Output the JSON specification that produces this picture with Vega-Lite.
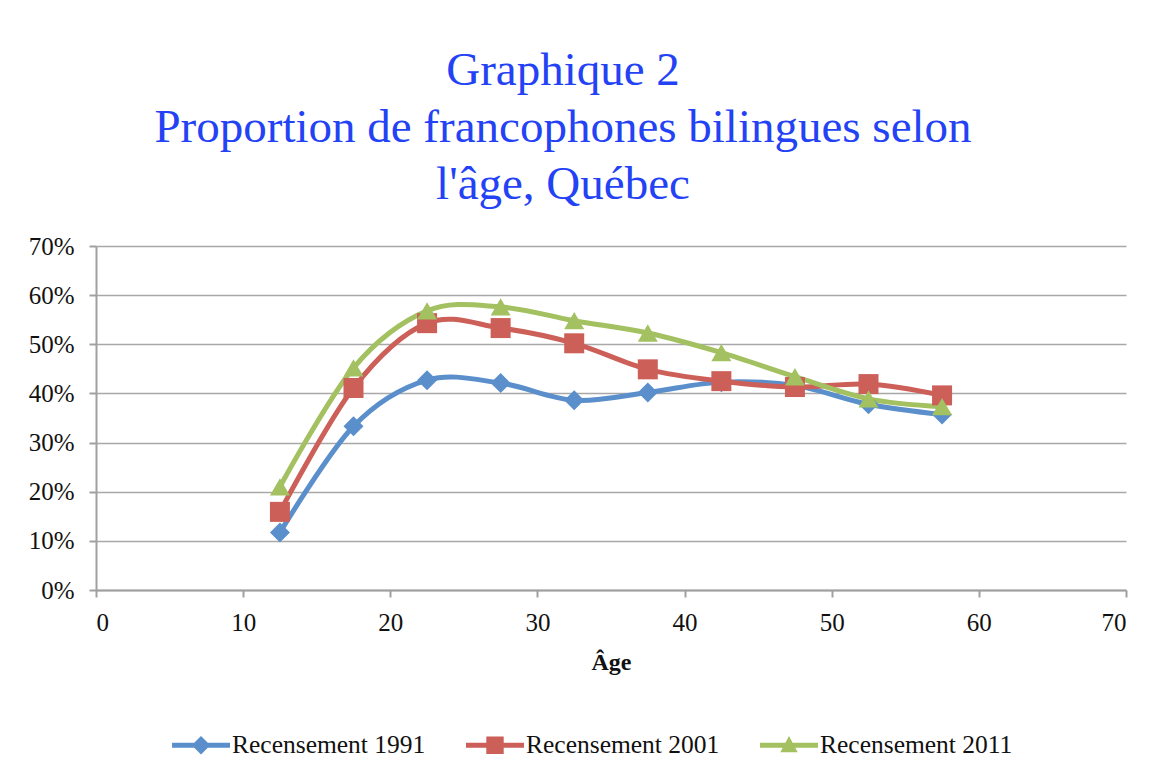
{
  "$schema": "https://vega.github.io/schema/vega-lite/v6.json",
  "autosize": {"type": "none"},
  "width": 1030,
  "height": 344,
  "padding": {"left": 96, "top": 246, "right": 34, "bottom": 192},
  "background": "white",
  "title": {
    "text": ["Graphique 2", "Proportion de francophones bilingues selon", "l'âge, Québec"],
    "anchor": "middle",
    "frame": "group",
    "dx": -48,
    "offset": 25,
    "font": "Liberation Serif",
    "fontSize": 47,
    "fontWeight": "normal",
    "color": "#2442F5",
    "lineHeight": 57
  },
  "config": {
    "view": {"stroke": null},
    "axis": {
      "labelFont": "Liberation Serif",
      "labelFontSize": 25,
      "labelColor": "#111111",
      "titleFont": "Liberation Serif",
      "titleColor": "#111111",
      "domainColor": "#A0A0A0",
      "domainWidth": 2,
      "tickColor": "#A0A0A0",
      "tickWidth": 2,
      "tickSize": 7,
      "gridColor": "#A8A8A8",
      "gridWidth": 1.6
    }
  },
  "data": {
    "values": [
      {"series": "Recensement 1991", "age": 12.5, "value": 0.117},
      {"series": "Recensement 1991", "age": 17.5, "value": 0.333},
      {"series": "Recensement 1991", "age": 22.5, "value": 0.427},
      {"series": "Recensement 1991", "age": 27.5, "value": 0.421},
      {"series": "Recensement 1991", "age": 32.5, "value": 0.386},
      {"series": "Recensement 1991", "age": 37.5, "value": 0.402},
      {"series": "Recensement 1991", "age": 42.5, "value": 0.423},
      {"series": "Recensement 1991", "age": 47.5, "value": 0.416},
      {"series": "Recensement 1991", "age": 52.5, "value": 0.378},
      {"series": "Recensement 1991", "age": 57.5, "value": 0.357},
      {"series": "Recensement 2001", "age": 12.5, "value": 0.159},
      {"series": "Recensement 2001", "age": 17.5, "value": 0.411},
      {"series": "Recensement 2001", "age": 22.5, "value": 0.543},
      {"series": "Recensement 2001", "age": 27.5, "value": 0.533},
      {"series": "Recensement 2001", "age": 32.5, "value": 0.502},
      {"series": "Recensement 2001", "age": 37.5, "value": 0.449},
      {"series": "Recensement 2001", "age": 42.5, "value": 0.425},
      {"series": "Recensement 2001", "age": 47.5, "value": 0.413},
      {"series": "Recensement 2001", "age": 52.5, "value": 0.419},
      {"series": "Recensement 2001", "age": 57.5, "value": 0.396},
      {"series": "Recensement 2011", "age": 12.5, "value": 0.210},
      {"series": "Recensement 2011", "age": 17.5, "value": 0.452},
      {"series": "Recensement 2011", "age": 22.5, "value": 0.568},
      {"series": "Recensement 2011", "age": 27.5, "value": 0.576},
      {"series": "Recensement 2011", "age": 32.5, "value": 0.548},
      {"series": "Recensement 2011", "age": 37.5, "value": 0.523},
      {"series": "Recensement 2011", "age": 42.5, "value": 0.483},
      {"series": "Recensement 2011", "age": 47.5, "value": 0.434},
      {"series": "Recensement 2011", "age": 52.5, "value": 0.389},
      {"series": "Recensement 2011", "age": 57.5, "value": 0.373}
    ]
  },
  "encoding": {
    "x": {
      "field": "age", "type": "quantitative",
      "scale": {"domain": [0, 70], "nice": false, "zero": false},
      "axis": {"values": [0, 10, 20, 30, 40, 50, 60, 70], "grid": false, "labelPadding": 13, "title": "Âge", "titleFontSize": 24, "titleFontWeight": "bold", "titlePadding": 15}
    },
    "y": {
      "field": "value", "type": "quantitative",
      "scale": {"domain": [0, 0.7], "nice": false},
      "axis": {"values": [0, 0.1, 0.2, 0.3, 0.4, 0.5, 0.6, 0.7], "format": ".0%", "title": null, "labelPadding": 15, "domain": true}
    }
  },
  "layer": [
    {
      "mark": {"type": "line", "interpolate": "cardinal", "strokeWidth": 5},
      "encoding": {
        "color": {"field": "series", "type": "nominal", "scale": {"domain": ["Recensement 1991", "Recensement 2001", "Recensement 2011"], "range": ["#5A8FCC", "#CD5F59", "#A3C160"]}, "legend": null}
      }
    },
    {
      "mark": {"type": "point", "filled": true, "opacity": 1, "size": 400},
      "encoding": {
        "color": {"field": "series", "type": "nominal", "legend": null},
        "shape": {"field": "series", "type": "nominal", "scale": {"domain": ["Recensement 1991", "Recensement 2001", "Recensement 2011"], "range": ["diamond", "square", "triangle-up"]}, "legend": null}
      }
    },
    {
      "mark": {"type": "point", "filled": true, "opacity": 0, "size": 3364},
      "encoding": {
        "shape": {
          "field": "series", "type": "nominal",
          "scale": {"domain": ["Recensement 1991", "Recensement 2001", "Recensement 2011"], "range": [
            "M-1,-0.086H1V0.086H-1Z M0,-0.32L0.32,0L0,0.32L-0.32,0Z",
            "M-1,-0.086H1V0.086H-1Z M-0.3,-0.3H0.3V0.3H-0.3Z",
            "M-1,-0.086H1V0.086H-1Z M0,-0.32L0.3,0.24H-0.3Z"
          ]},
          "legend": {
            "title": null,
            "orient": "none",
            "legendX": 76,
            "legendY": 470,
            "direction": "horizontal",
            "symbolSize": 3364,
            "symbolOpacity": 1,
            "symbolStrokeWidth": 0,
            "labelFont": "Liberation Serif",
            "labelFontSize": 25.5,
            "labelColor": "#111111",
            "labelOffset": 2,
            "labelLimit": 400,
            "columnPadding": 40,
            "padding": 0,
            "encoding": {
              "symbols": {
                "fill": {"value": {"expr": "datum.value === 'Recensement 1991' ? '#5A8FCC' : datum.value === 'Recensement 2001' ? '#CD5F59' : '#A3C160'"}}
              }
            }
          }
        }
      }
    }
  ],
  "resolve": {"scale": {"shape": "independent"}}
}
